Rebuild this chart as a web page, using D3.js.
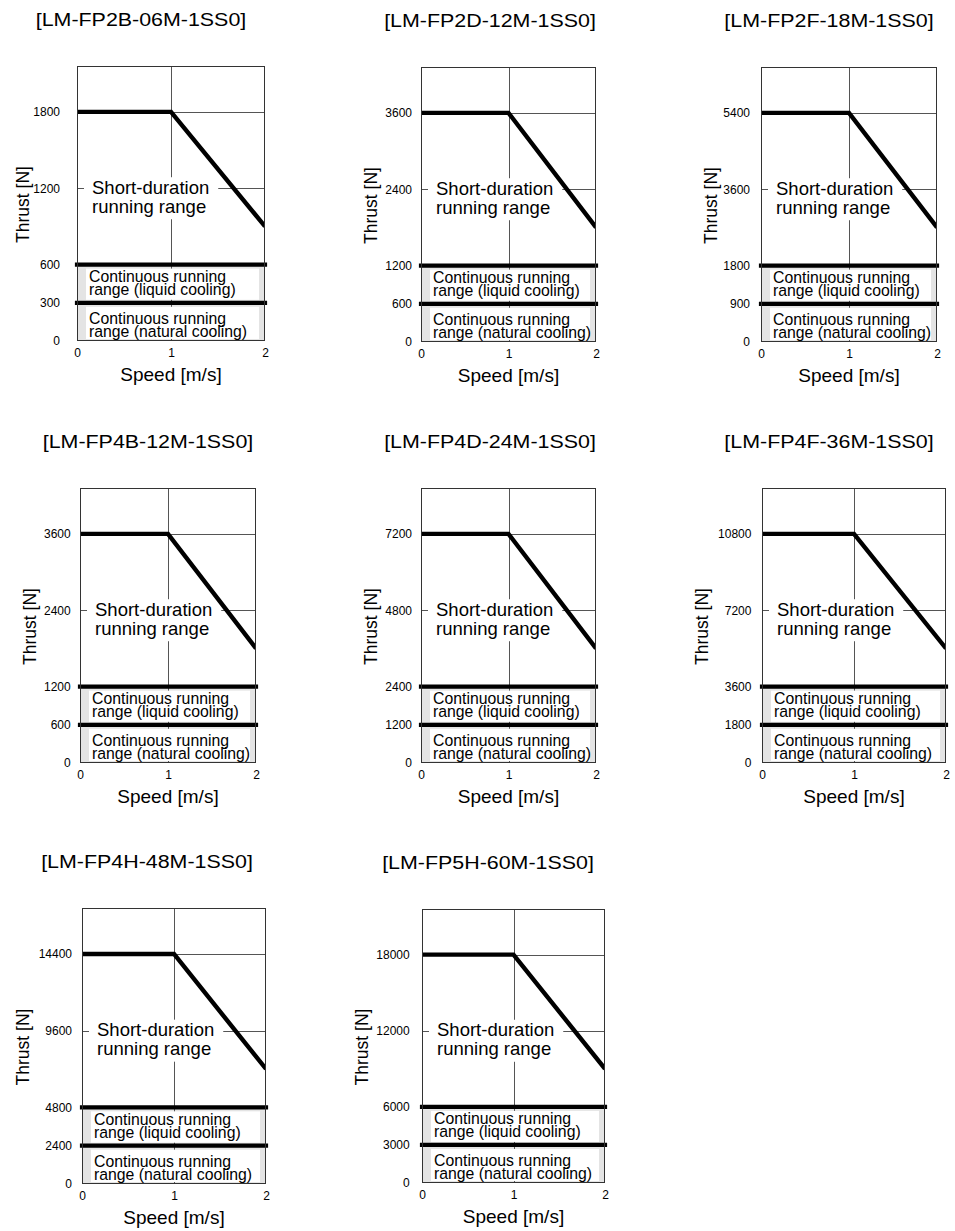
<!DOCTYPE html>
<html>
<head>
<meta charset="utf-8">
<script src="https://cdn.jsdelivr.net/npm/d3@7"></script>
<style>
  html, body { margin: 0; padding: 0; background: #fff; }
  svg { display: block; }
  text { font-family: "Liberation Sans", Arial, Helvetica, sans-serif; fill: #000; }
</style>
</head>
<body>
<svg id="chart" width="955" height="1231"></svg>
<script>
// ---------------- data ----------------
const models = [
  "[LM-FP2B-06M-1SS0]", "[LM-FP2D-12M-1SS0]", "[LM-FP2F-18M-1SS0]",
  "[LM-FP4B-12M-1SS0]", "[LM-FP4D-24M-1SS0]", "[LM-FP4F-36M-1SS0]",
  "[LM-FP4H-48M-1SS0]", "[LM-FP5H-60M-1SS0]"
];
const speedPoints = [0, 1, 2];                 // m/s, corners of the short-duration curve
const speedTicks = [0, 1, 2];
const speedMax = 2;
const peakThrust = [1800, 3600, 5400, 3600, 7200, 10800, 14400, 18000];   // N at 0..1 m/s
const endThrust = [900, 1800, 2700, 1800, 3600, 5400, 7200, 9000];        // N at 2 m/s
const midTick = [1200, 2400, 3600, 2400, 4800, 7200, 9600, 12000];
const liquidThrust = [600, 1200, 1800, 1200, 2400, 3600, 4800, 6000];
const naturalThrust = [300, 600, 900, 600, 1200, 1800, 2400, 3000];
const thrustMax = [2160, 4320, 6480, 4320, 8640, 12960, 17280, 21600];

const shortLabel = ["Short-duration", "running range"];
const liquidLabel = ["Continuous running", "range (liquid cooling)"];
const naturalLabel = ["Continuous running", "range (natural cooling)"];
const xTitle = "Speed [m/s]";
const yTitle = "Thrust [N]";

// ---------------- layout (pixel boxes of each panel) ----------------
const panels = [
  { l: 77,  r: 265, t: 66,  b: 341,  tx: 141, gap: 17, yto: 53.5 },
  { l: 421, r: 596, t: 67,  b: 342,  tx: 490, gap: 9,  yto: 49 },
  { l: 761, r: 937, t: 67,  b: 342,  tx: 829, gap: 11, yto: 49.3 },
  { l: 80,  r: 256, t: 488, b: 763,  tx: 148, gap: 9.3, yto: 48.7 },
  { l: 421, r: 596, t: 488, b: 763,  tx: 490, gap: 9,  yto: 48.7 },
  { l: 762, r: 946, t: 488, b: 763,  tx: 829, gap: 10.6, yto: 58.6 },
  { l: 82,  r: 266, t: 908, b: 1184, tx: 147, gap: 10, yto: 58 },
  { l: 422, r: 605, t: 909, b: 1183, tx: 488, gap: 12.3, yto: 59.5 }
];

const svg = d3.select("#chart");
const GRID = "#555";
const FILL = "#e4e4e4";

function scaledText(g, x, y, str, size, sx, anchor) {
  return g.append("text")
    .attr("transform", `translate(${x},${y}) scale(${sx},1)`)
    .attr("font-size", size)
    .attr("text-anchor", anchor || "start")
    .text(str);
}

models.forEach((model, i) => {
  const p = panels[i];
  const g = svg.append("g");
  const x = d3.scaleLinear().domain([0, speedMax]).range([p.l, p.r]);
  const y = d3.scaleLinear().domain([0, thrustMax[i]]).range([p.b, p.t]);

  const clipId = "clip" + i;
  g.append("clipPath").attr("id", clipId)
    .append("rect").attr("x", p.l).attr("y", p.t).attr("width", p.r - p.l).attr("height", p.b - p.t);

  // continuous region shading
  g.append("rect")
    .attr("x", x(0)).attr("y", y(liquidThrust[i]))
    .attr("width", x(speedMax) - x(0)).attr("height", y(0) - y(liquidThrust[i]))
    .attr("fill", FILL);

  // grid
  const yGrid = [naturalThrust[i], liquidThrust[i], midTick[i], peakThrust[i]];
  g.append("g").selectAll("line").data(yGrid).join("line")
    .attr("x1", x(0)).attr("x2", x(speedMax))
    .attr("y1", d => Math.round(y(d)) + 0.5).attr("y2", d => Math.round(y(d)) + 0.5)
    .attr("stroke", GRID).attr("stroke-width", 1);
  g.append("g").selectAll("line").data(speedTicks.slice(1, -1)).join("line")
    .attr("x1", d => Math.round(x(d)) + 0.5).attr("x2", d => Math.round(x(d)) + 0.5)
    .attr("y1", y(thrustMax[i])).attr("y2", y(0))
    .attr("stroke", GRID).attr("stroke-width", 1);

  // white label boxes for continuous ranges
  const boxL = p.l + 9, boxR = p.r - 6;
  g.append("rect").attr("x", boxL).attr("y", y(liquidThrust[i]) + 4)
    .attr("width", boxR - boxL).attr("height", y(naturalThrust[i]) - y(liquidThrust[i]) - 7)
    .attr("fill", "#fff");
  g.append("rect").attr("x", boxL).attr("y", y(naturalThrust[i]) + 4)
    .attr("width", boxR - boxL).attr("height", y(0) - y(naturalThrust[i]) - 6)
    .attr("fill", "#fff");

  // short duration label with white background
  const midY = y(midTick[i]);
  const sg = g.append("g");
  const sBox = sg.append("rect").attr("fill", "#fff");
  const t1 = scaledText(sg, p.l + 15, midY + 5.5, shortLabel[0], 18.5, 1, "start");
  scaledText(sg, p.l + 15, midY + 24.5, shortLabel[1], 18.5, 1, "start");
  const w1 = t1.node().getComputedTextLength();
  sBox.attr("x", p.l + 7).attr("y", midY - 11)
    .attr("width", (p.l + 15 + w1 + 9) - (p.l + 7)).attr("height", 42);

  // thick range lines
  const line = d3.line().x(d => x(d[0])).y(d => y(d[1]));
  const curve = [[speedPoints[0], peakThrust[i]], [speedPoints[1], peakThrust[i]], [speedPoints[2], endThrust[i]]];
  g.append("path").datum(curve).attr("d", line)
    .attr("fill", "none").attr("stroke", "#000").attr("stroke-width", 4.4)
    .attr("stroke-linejoin", "miter").attr("clip-path", `url(#${clipId})`);
  [liquidThrust[i], naturalThrust[i]].forEach(v => {
    g.append("path").datum([[0, v], [speedMax, v]]).attr("d", line)
      .attr("fill", "none").attr("stroke", "#000").attr("stroke-width", 4.2)
      .attr("stroke-linecap", "square");
  });

  // frame
  g.append("rect")
    .attr("x", p.l + 0.5).attr("y", p.t + 0.5)
    .attr("width", p.r - p.l - 1).attr("height", p.b - p.t - 1)
    .attr("fill", "none").attr("stroke", "#333").attr("stroke-width", 1);

  // continuous labels
  const lq = y(liquidThrust[i]);
  scaledText(g, p.l + 12, lq + 17.5, liquidLabel[0], 17, 0.93, "start");
  scaledText(g, p.l + 12, lq + 30.5, liquidLabel[1], 17, 0.93, "start");
  const nt = y(naturalThrust[i]);
  scaledText(g, p.l + 12, nt + 21, naturalLabel[0], 17, 0.93, "start");
  scaledText(g, p.l + 12, nt + 34, naturalLabel[1], 17, 0.93, "start");

  // axes tick labels
  const yAxis = d3.axisLeft(y)
    .tickValues([0, naturalThrust[i], liquidThrust[i], midTick[i], peakThrust[i]])
    .tickFormat(d3.format("d")).tickSize(0).tickPadding(p.gap);
  const ya = g.append("g").attr("transform", `translate(${p.l},0)`).call(yAxis);
  ya.select(".domain").remove();
  ya.selectAll("text").attr("font-size", 12).attr("font-family", null);

  const xAxis = d3.axisBottom(x).tickValues(speedTicks).tickFormat(d3.format("d")).tickSize(0).tickPadding(7);
  const xa = g.append("g").attr("transform", `translate(0,${p.b})`).call(xAxis);
  xa.select(".domain").remove();
  xa.selectAll("text").attr("font-size", 12).attr("font-family", null);

  // axis titles
  g.append("text")
    .attr("transform", `translate(${p.l - p.yto + 5},${(p.t + p.b) / 2 + 1}) rotate(-90)`)
    .attr("text-anchor", "middle").attr("font-size", 17.5).text(yTitle);
  g.append("text")
    .attr("x", (p.l + p.r) / 2).attr("y", p.b + 40)
    .attr("text-anchor", "middle").attr("font-size", 19).text(xTitle);

  // panel title
  scaledText(g, p.tx, p.t - 40, model, 18, 1.19, "middle");
});
</script>
</body>
</html>
